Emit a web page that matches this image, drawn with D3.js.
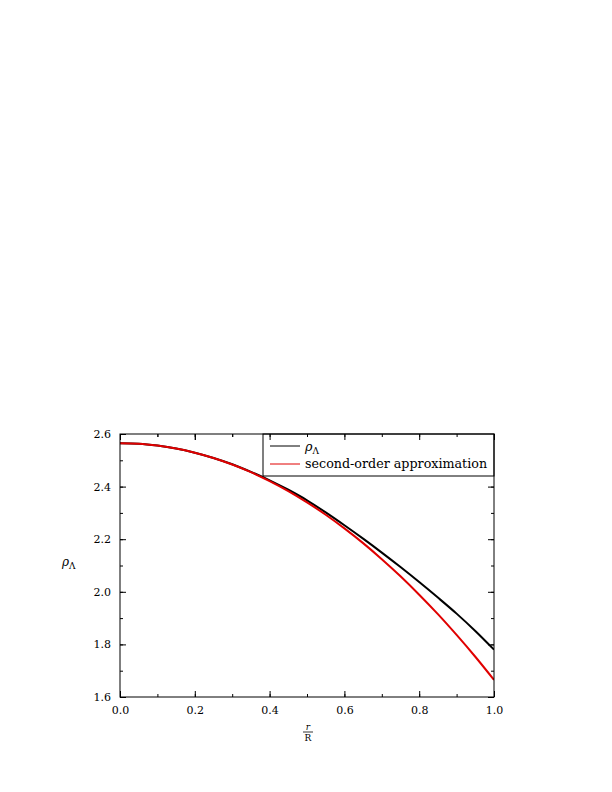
<!DOCTYPE html>
<html lang="en">
  <head>
    <meta charset="UTF-8" />
    <title></title>
    <script src="https://d3js.org/d3.v7.min.js"></script>
    <style>
      body { margin: 0; background: #fff; }
      text { font-family: 'DejaVu Serif', serif; fill: #000; }
    </style>
  </head>
  <body>
    <svg id="chart" width="612" height="792"></svg>
    <script>
      // r / R sample points
      const rValues = [0, 0.05, 0.1, 0.15, 0.2, 0.25, 0.3, 0.35, 0.4, 0.45, 0.5,
        0.55, 0.6, 0.65, 0.7, 0.75, 0.8, 0.85, 0.9, 0.95, 1.0]
      // exact rho_Lambda (black)
      const rhoExact = [2.565, 2.563, 2.556, 2.545, 2.529, 2.509, 2.485, 2.456, 2.424, 2.388, 2.348,
        2.302, 2.253, 2.202, 2.149, 2.094, 2.037, 1.978, 1.917, 1.851, 1.780]
      // second-order approximation (red)
      const rhoApprox = [2.565, 2.563, 2.556, 2.545, 2.529, 2.509, 2.484, 2.455, 2.421, 2.383, 2.340,
        2.293, 2.241, 2.185, 2.124, 2.059, 1.989, 1.915, 1.836, 1.753, 1.665]

      const xTicks = [0, 0.2, 0.4, 0.6, 0.8, 1.0]
      const yTicks = [1.6, 1.8, 2.0, 2.2, 2.4, 2.6]
      const legendLabels = ['second-order approximation']

      const svg = d3.select('#chart')
      const mLeft = 120, mRight = 494, mTop = 434, mBottom = 697

      const x = d3.scaleLinear().domain([0, 1]).range([mLeft, mRight])
      const y = d3.scaleLinear().domain([1.6, 2.6]).range([mBottom, mTop])

      // ticks on all four sides, pointing inward
      const minorX = d3.range(0, 1.0001, 0.1)
      const minorY = d3.range(1.6, 2.6001, 0.1)

      const axB = d3.axisBottom(x).tickValues(xTicks).tickFormat(d3.format('.1f')).tickSizeInner(-6).tickSizeOuter(0).tickPadding(9)
      const axL = d3.axisLeft(y).tickValues(yTicks).tickFormat(d3.format('.1f')).tickSizeInner(-6).tickSizeOuter(0).tickPadding(9)
      const axT = d3.axisTop(x).tickValues(xTicks).tickFormat('').tickSizeInner(-6).tickSizeOuter(0)
      const axR = d3.axisRight(y).tickValues(yTicks).tickFormat('').tickSizeInner(-6).tickSizeOuter(0)

      const mB = d3.axisBottom(x).tickValues(minorX).tickFormat('').tickSizeInner(-3).tickSizeOuter(0)
      const mL = d3.axisLeft(y).tickValues(minorY).tickFormat('').tickSizeInner(-3).tickSizeOuter(0)
      const mT = d3.axisTop(x).tickValues(minorX).tickFormat('').tickSizeInner(-3).tickSizeOuter(0)
      const mR = d3.axisRight(y).tickValues(minorY).tickFormat('').tickSizeInner(-3).tickSizeOuter(0)

      const axes = [
        [axB, `translate(0,${mBottom})`], [axL, `translate(${mLeft},0)`],
        [axT, `translate(0,${mTop})`], [axR, `translate(${mRight},0)`],
        [mB, `translate(0,${mBottom})`], [mL, `translate(${mLeft},0)`],
        [mT, `translate(0,${mTop})`], [mR, `translate(${mRight},0)`]
      ]
      axes.forEach(([ax, tr]) => {
        const g = svg.append('g').attr('transform', tr).call(ax)
        g.select('.domain').remove()
        g.selectAll('text').style('font-size', '11px').style('font-family', "'DejaVu Serif', serif")
      })

      // curves
      const line = d3.line().x(d => x(d[0])).y(d => y(d[1])).curve(d3.curveMonotoneX)
      svg.append('clipPath').attr('id', 'clip')
        .append('rect').attr('x', mLeft).attr('y', mTop).attr('width', mRight - mLeft).attr('height', mBottom - mTop)

      svg.append('path')
        .datum(rValues.map((r, i) => [r, rhoExact[i]]))
        .attr('d', line).attr('fill', 'none').attr('stroke', '#000').attr('stroke-width', 2)
        .attr('clip-path', 'url(#clip)')
      svg.append('path')
        .datum(rValues.map((r, i) => [r, rhoApprox[i]]))
        .attr('d', line).attr('fill', 'none').attr('stroke', '#e00000').attr('stroke-width', 2)
        .attr('clip-path', 'url(#clip)')

      // legend box
      const lg = svg.append('g')
      lg.append('rect').attr('x', 263).attr('y', mTop).attr('width', mRight - 263).attr('height', 42)
        .attr('fill', '#fff').attr('stroke', '#000').attr('stroke-width', 1)
      lg.append('line').attr('x1', 270).attr('x2', 300).attr('y1', 446).attr('y2', 446).attr('stroke', '#000')
      lg.append('line').attr('x1', 270).attr('x2', 300).attr('y1', 464).attr('y2', 464).attr('stroke', '#e00000')
      const rl = lg.append('text').attr('x', 305).attr('y', 451).style('font-size', '12.7px')
      rl.append('tspan').style('font-style', 'italic').text('ρ')
      rl.append('tspan').attr('dy', 3).style('font-size', '9px').text('Λ')
      lg.append('text').attr('x', 305).attr('y', 468).style('font-size', '12.7px').text(legendLabels[0])

      // redraw top ticks over the legend
      svg.append('g').attr('transform', `translate(0,${mTop})`).call(axT).select('.domain').remove()
      svg.append('g').attr('transform', `translate(0,${mTop})`).call(mT).select('.domain').remove()

      // frame
      svg.append('rect').attr('x', mLeft).attr('y', mTop).attr('width', mRight - mLeft).attr('height', mBottom - mTop)
        .attr('fill', 'none').attr('stroke', '#000').attr('stroke-width', 1)

      // y label
      const yl = svg.append('text').attr('x', 62).attr('y', 566).style('font-size', '12px')
      yl.append('tspan').style('font-style', 'italic').text('ρ')
      yl.append('tspan').attr('dy', 3).style('font-size', '9px').text('Λ')

      // x label r/R
      svg.append('text').attr('x', 308).attr('y', 730).attr('text-anchor', 'middle')
        .style('font-size', '9px').style('font-style', 'italic').text('r')
      svg.append('line').attr('x1', 303).attr('x2', 313).attr('y1', 732).attr('y2', 732).attr('stroke', '#000').attr('stroke-width', 0.8)
      svg.append('text').attr('x', 308).attr('y', 741).attr('text-anchor', 'middle')
        .style('font-size', '9px').text('R')
    </script>
  </body>
</html>
